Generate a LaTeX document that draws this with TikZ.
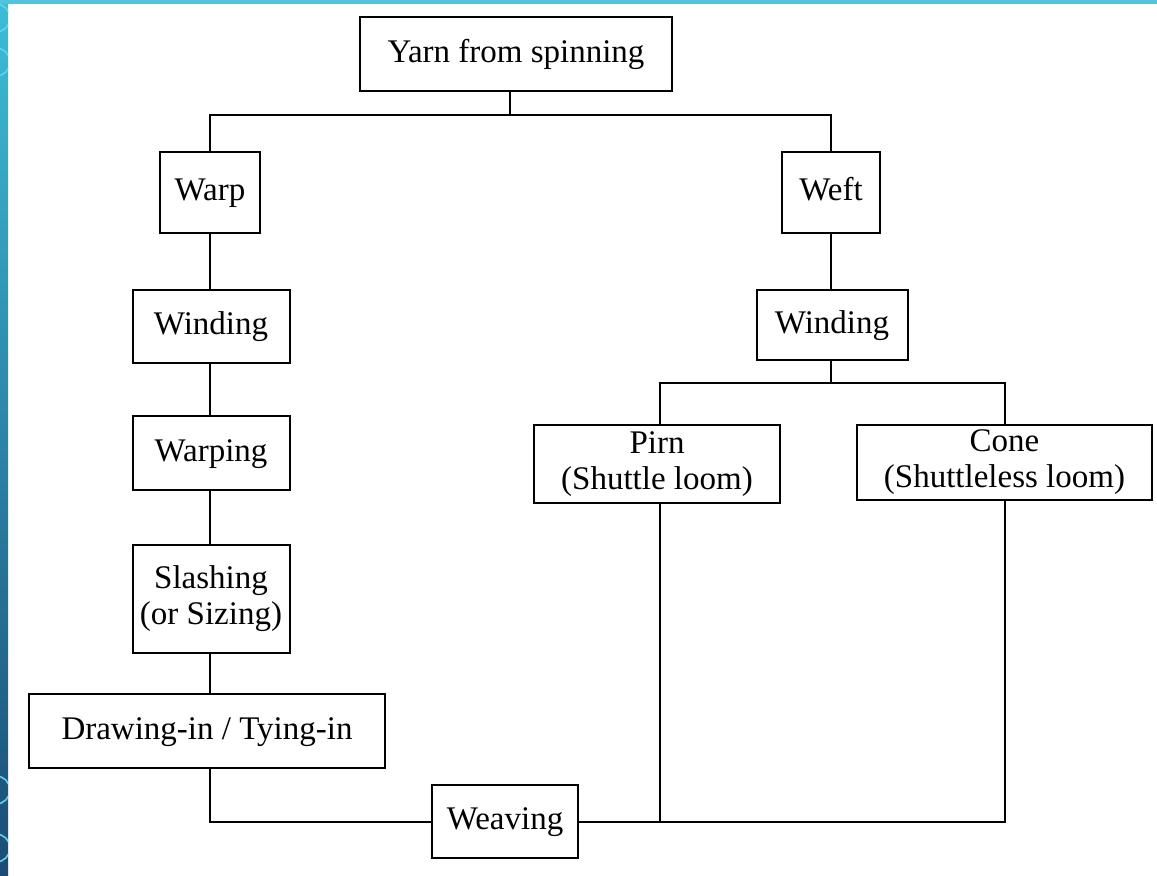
\documentclass[tikz,border=0pt]{standalone}
\usepackage{fontspec}
\setmainfont{Liberation Serif}
\usetikzlibrary{positioning}

\definecolor{stripTop}{HTML}{3DBDD6}
\definecolor{stripBot}{HTML}{1A4C77}
\definecolor{ringBlue}{HTML}{62CFF2}

\tikzset{
  stage/.style={draw, line width=1pt, inner sep=0pt, align=center,
                font=\fontsize{16.5}{18}\selectfont},
  oneline/.style={stage, text height=11.5pt, text depth=3.5pt},
  link/.style={line width=1pt}
}

\begin{document}
\begin{tikzpicture}[x=0.5pt,y=-0.5pt]

  % Frame of the slide
  \useasboundingbox (0,0) rectangle (1157,875);
  \fill[white] (0,0) rectangle (1157,875);
  \shade[top color=stripTop, bottom color=stripBot] (0,0) rectangle (8,875);
  \fill[stripTop!90!white] (0,0) rectangle (1157,4);
  \begin{scope}
    \clip (0,0) rectangle (8,875);
    \foreach \ry in {18,62,790,848}
      \draw[ringBlue, line width=0.8pt] (-4,\ry) circle [radius=14];
  \end{scope}

  % Stages
  \node[oneline, minimum width=156pt, minimum height=37pt] (yarn) at (516,54) {Yarn from spinning};

  \node[oneline, minimum width=50pt, minimum height=40.5pt] (warp) at (210,192) {Warp};
  \node[oneline, minimum width=49pt, minimum height=40.5pt] (weft) at (831,192) {Weft};

  \node[oneline, minimum width=78.5pt, minimum height=36.5pt] (windL) at (211,326) {Winding};
  \node[oneline, minimum width=78.5pt, minimum height=37pt] (warping) at (211,453) {Warping};
  \node[stage, minimum width=78.5pt, minimum height=54pt] (slashing) at (211,599) {Slashing\\(or Sizing)};
  \node[oneline, minimum width=178pt, minimum height=37pt] (drawing) at (207,731) {Drawing-in / Tying-in};

  \node[oneline, minimum width=75.5pt, minimum height=35pt] (windR) at (832,325) {Winding};
  \node[stage, minimum width=123pt, minimum height=39pt] (pirn) at (657,464) {Pirn\\(Shuttle loom)};
  \node[stage, minimum width=147.5pt, minimum height=37.5pt] (cone) at (1004.5,462.5) {Cone\\(Shuttleless loom)};

  \node[oneline, minimum width=73pt, minimum height=36.5pt] (weaving) at (505,821.5) {Weaving};

  % Split points
  \coordinate (topsplit) at (510,115);
  \coordinate (rsplit) at (831,383);

  % Connectors
  \draw[link] (yarn.south -| topsplit) -- (topsplit);
  \draw[link] (warp.north) |- (topsplit) -| (weft.north);

  \draw[link] (warp.south) -- (warp.south |- windL.north);
  \draw[link] (windL.south -| warp) -- (warp |- warping.north);
  \draw[link] (warping.south -| warp) -- (warp |- slashing.north);
  \draw[link] (slashing.south -| warp) -- (warp |- drawing.north);
  \draw[link] (drawing.south -| warp) |- (weaving.west);

  \draw[link] (weft.south) -- (weft.south |- windR.north);
  \draw[link] (windR.south -| rsplit) -- (rsplit);
  \draw[link] (pirn.north -| 660,0) |- (rsplit) -| (cone.north);

  \draw[link] (weaving.east) -| (cone.south);
  \draw[link] (pirn.south -| 660,0) -- (660,0 |- weaving.east);

\end{tikzpicture}
\end{document}
